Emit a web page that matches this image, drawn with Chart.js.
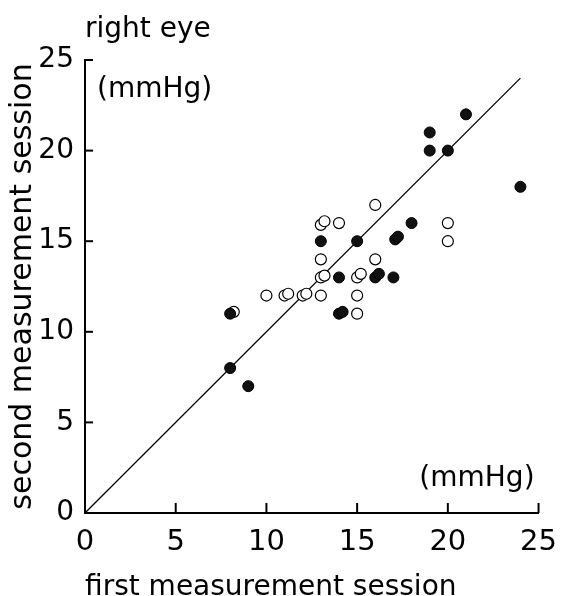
<!DOCTYPE html>
<html>
<head>
<meta charset="utf-8">
<script src="https://cdn.jsdelivr.net/npm/chart.js@4.4.1/dist/chart.umd.min.js"></script>
<style>
  html, body { margin: 0; padding: 0; background: #fff; }
  #wrap { width: 561px; height: 596px; }
</style>
</head>
<body>
<div id="wrap"><canvas id="chart" width="561" height="596"></canvas></div>
<script>
// values (mmHg)
const filledX = [21, 19, 19, 20, 24, 18, 13, 15, 17.1, 17.25, 14, 16, 16.2, 17, 8, 14, 14.2, 8, 9];
const filledY = [22, 21, 20, 20, 18, 16, 15, 15, 15.1, 15.25, 13, 13, 13.2, 13, 11, 11, 11.1, 8, 7];
const openX = [16, 13, 13.2, 14, 20, 20, 13, 16, 13, 13.2, 15, 15.2, 10, 11, 11.2, 12, 12.2, 13, 15, 8.2, 15];
const openY = [17, 15.9, 16.1, 16, 16, 15, 14, 14, 13, 13.1, 13, 13.2, 12, 12, 12.1, 12, 12.1, 12, 12, 11.1, 11];
const lineX = [0, 24];
const lineY = [0, 24];
const tickValues = [0, 5, 10, 15, 20, 25];

const FONT = "'DejaVu Sans', sans-serif";

function toPoints(xs, ys) {
    return xs.map((x, i) => ({ x: x, y: ys[i] }));
}

// inward tick marks + the loose labels
const extras = {
    id: 'extras',
    afterDraw(chart) {
        const { ctx, chartArea, scales } = chart;
        ctx.save();
        ctx.strokeStyle = '#000';
        ctx.lineWidth = 2;
        tickValues.slice(1).forEach(v => {
            const px = scales.x.getPixelForValue(v);
            ctx.beginPath();
            ctx.moveTo(px, chartArea.bottom);
            ctx.lineTo(px, chartArea.bottom - 10);
            ctx.stroke();
            const py = scales.y.getPixelForValue(v);
            ctx.beginPath();
            ctx.moveTo(chartArea.left, py);
            ctx.lineTo(chartArea.left + 8, py);
            ctx.stroke();
        });

        ctx.fillStyle = '#000';
        ctx.font = "28px " + FONT;
        ctx.textBaseline = 'alphabetic';
        ctx.textAlign = 'left';
        ctx.fillText('right eye', chartArea.left, 37);
        ctx.fillText('(mmHg)', chartArea.left + 12, chartArea.top + 37);
        ctx.textAlign = 'right';
        ctx.fillText('(mmHg)', chartArea.right - 4, chartArea.bottom - 27);
        ctx.restore();
    }
};

new Chart(document.getElementById('chart'), {
    type: 'scatter',
    data: {
        datasets: [
            {
                label: 'filled',
                data: toPoints(filledX, filledY),
                backgroundColor: '#111',
                borderColor: '#000',
                borderWidth: 1,
                pointRadius: 5.5,
                order: 0
            },
            {
                label: 'open',
                data: toPoints(openX, openY),
                backgroundColor: '#fff',
                borderColor: '#000',
                borderWidth: 1.2,
                pointRadius: 5.5,
                order: 1
            },
            {
                type: 'line',
                label: 'identity',
                data: toPoints(lineX, lineY),
                borderColor: '#000',
                borderWidth: 1.3,
                pointRadius: 0,
                fill: false,
                order: 2
            }
        ]
    },
    options: {
        responsive: false,
        animation: false,
        layout: { padding: { top: 60, right: 21, left: 0, bottom: 0 } },
        plugins: {
            legend: { display: false },
            tooltip: { enabled: false }
        },
        scales: {
            x: {
                type: 'linear',
                min: 0,
                max: 25,
                afterFit: scale => { scale.height = 83; },
                afterBuildTicks: scale => { scale.ticks = tickValues.map(v => ({ value: v })); },
                grid: { display: false },
                border: { display: true, color: '#000', width: 2 },
                ticks: {
                    color: '#000',
                    padding: 4,
                    font: { family: FONT, size: 29 }
                },
                title: {
                    display: true,
                    text: 'first measurement session',
                    color: '#000',
                    align: 'start',
                    padding: 0,
                    font: { family: FONT, size: 28, lineHeight: 0.6 }
                }
            },
            y: {
                type: 'linear',
                min: 0,
                max: 25,
                afterFit: scale => { scale.width = 85; },
                afterBuildTicks: scale => { scale.ticks = tickValues.map(v => ({ value: v })); },
                grid: { display: false },
                border: { display: true, color: '#000', width: 2 },
                ticks: {
                    color: '#000',
                    padding: 3,
                    font: { family: FONT, size: 28 }
                },
                title: {
                    display: true,
                    text: 'second measurement session',
                    color: '#000',
                    padding: { top: 5, bottom: 0 },
                    font: { family: FONT, size: 30 }
                }
            }
        }
    },
    plugins: [extras]
});
</script>
</body>
</html>
